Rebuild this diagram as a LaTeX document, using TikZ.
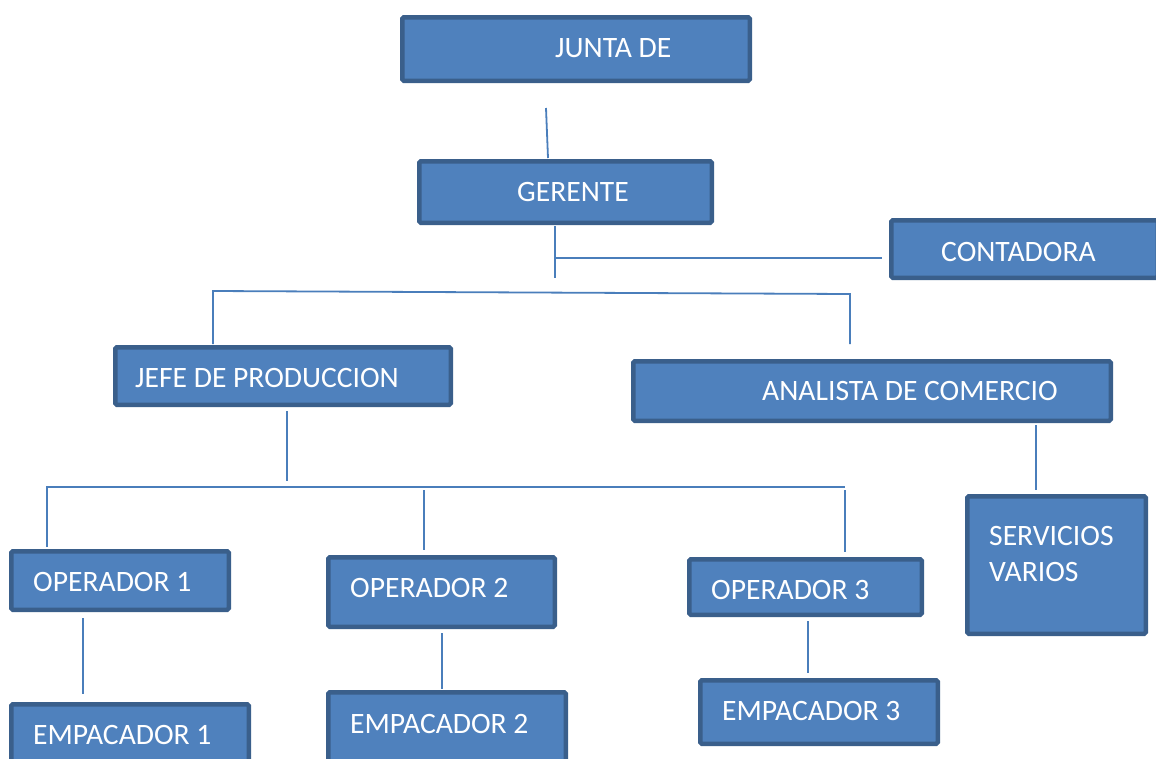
\documentclass[tikz,border=0pt]{standalone}
\usepackage{fontspec}
\setmainfont{Carlito}
\definecolor{boxfill}{HTML}{4F81BD}
\definecolor{boxline}{HTML}{3A5F8B}
\definecolor{conn}{HTML}{4A7EBB}
\tikzset{
  orgbox/.style={draw=boxline, fill=boxfill, line width=4.5pt, rounded corners=1.5pt, inner sep=0pt, outer sep=0pt},
  lbl/.style={anchor=base west, inner sep=0pt, text=white, font=\fontsize{29.6}{36}\selectfont, align=left},
  link/.style={draw=conn, line width=1.8pt}
}
\begin{document}
\begin{tikzpicture}[x=1pt,y=-1pt]
\useasboundingbox (0,0) rectangle (1156,758);
% boxes
\node[orgbox, minimum width=347.5pt, minimum height=63.5pt] (junta) at (576,49) {};
\node[orgbox, minimum width=292.5pt, minimum height=61.5pt] (gerente) at (565.5,192) {};
\node[orgbox, minimum width=266.5pt, minimum height=57.5pt] (contadora) at (1024.5,249) {};
\node[orgbox, minimum width=335.5pt, minimum height=57.5pt] (jefe) at (283,376) {};
\node[orgbox, minimum width=477.5pt, minimum height=59.5pt] (analista) at (872,391) {};
\node[orgbox, minimum width=178.5pt, minimum height=137.5pt] (servicios) at (1056.5,565) {};
\node[orgbox, minimum width=217.5pt, minimum height=58.5pt] (op1) at (120,580.5) {};
\node[orgbox, minimum width=226.5pt, minimum height=69.5pt] (op2) at (441.5,592) {};
\node[orgbox, minimum width=232.5pt, minimum height=55.5pt] (op3) at (805.5,587) {};
\node[orgbox, minimum width=237.5pt, minimum height=68.5pt] (emp1) at (130,738.5) {};
\node[orgbox, minimum width=237.5pt, minimum height=75.5pt] (emp2) at (447,730) {};
\node[orgbox, minimum width=237.5pt, minimum height=63.5pt] (emp3) at (819,712) {};
% labels
\node[lbl] (tjunta) at (555,57) {JUNTA DE};
\node[lbl] (tgerente) at (517,201) {GERENTE};
\node[lbl] (tcontadora) at (941,261) {CONTADORA};
\node[lbl] (tjefe) at (135,387) {JEFE DE PRODUCCION};
\node[lbl] (tanalista) at (762,400) {ANALISTA DE COMERCIO};
\node[lbl, anchor=north west] (tservicios) at (989,526) {SERVICIOS\\VARIOS};
\node[lbl] (top1) at (33,591) {OPERADOR 1};
\node[lbl] (top2) at (350,597) {OPERADOR 2};
\node[lbl] (top3) at (711,599) {OPERADOR 3};
\node[lbl] (temp1) at (33,744) {EMPACADOR 1};
\node[lbl] (temp2) at (350,733) {EMPACADOR 2};
\node[lbl] (temp3) at (722,720) {EMPACADOR 3};
% connector points
\coordinate (c1a) at (546,108); \coordinate (c1b) at (548,158);
\coordinate (c2a) at (555,226); \coordinate (c2b) at (555,278);
\coordinate (c3a) at (555,258); \coordinate (c3b) at (882,258);
\coordinate (h1l) at (213,291); \coordinate (h1r) at (850,294);
\coordinate (j1b) at (213,344); \coordinate (a1b) at (850,344);
\coordinate (jd1) at (287,411); \coordinate (jd2) at (287,481);
\coordinate (h2l) at (47,487); \coordinate (h2r) at (845,487);
\coordinate (o1b) at (47,547);
\coordinate (o2t) at (424,490); \coordinate (o2b) at (424,550);
\coordinate (o3t) at (845,490); \coordinate (o3b) at (845,552);
\coordinate (ad1) at (1036,425); \coordinate (ad2) at (1036,490);
\coordinate (e1t) at (83,618); \coordinate (e1b) at (83,694);
\coordinate (e2t) at (442,633); \coordinate (e2b) at (442,689);
\coordinate (e3t) at (808,621); \coordinate (e3b) at (808,673);
% connectors
\draw[link] (c1a) -- (c1b);
\draw[link] (c2a) -- (c2b);
\draw[link] (c3a) -- (c3b);
\draw[link] (j1b) -- (h1l) -- (h1r) -- (a1b);
\draw[link] (jd1) -- (jd2);
\draw[link] (o1b) -- (h2l) -- (h2r);
\draw[link] (o2t) -- (o2b);
\draw[link] (o3t) -- (o3b);
\draw[link] (ad1) -- (ad2);
\draw[link] (e1t) -- (e1b);
\draw[link] (e2t) -- (e2b);
\draw[link] (e3t) -- (e3b);
\end{tikzpicture}
\end{document}
